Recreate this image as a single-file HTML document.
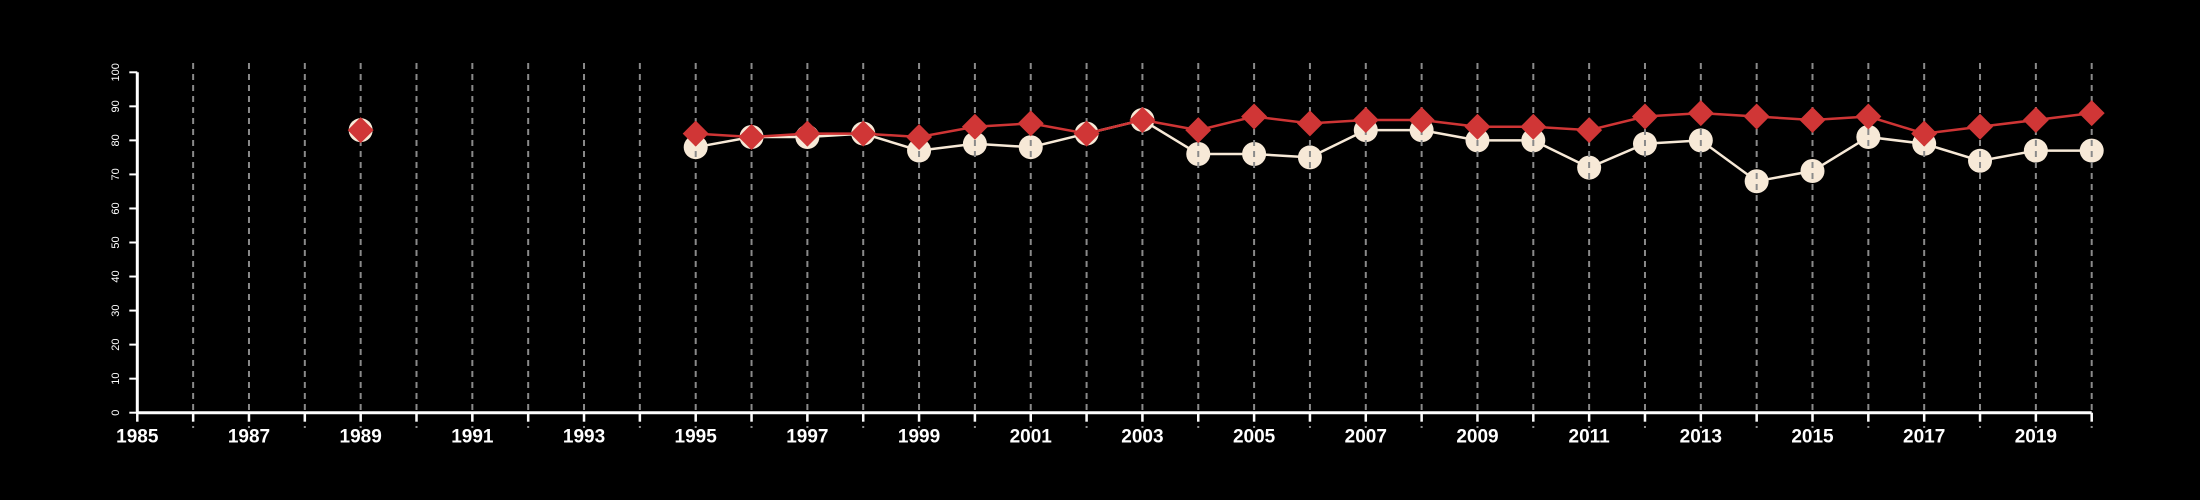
<!DOCTYPE html>
<html><head><meta charset="utf-8"><style>
html,body{margin:0;padding:0;background:#000;}
svg{display:block;}
text{font-family:"Liberation Sans",Arial,sans-serif;fill:#fff;}
</style></head><body>
<svg id="chart" width="2200" height="500" viewBox="0 0 2200 500" xmlns="http://www.w3.org/2000/svg">
<rect width="2200" height="500" fill="#000"/>
<g id="gWhite"></g><g id="gGrid"></g><g id="gRed"></g><g id="gAxes"></g>
</svg>
<script>
const years = [1989,1995,1996,1997,1998,1999,2000,2001,2002,2003,2004,2005,2006,2007,2008,2009,2010,2011,2012,2013,2014,2015,2016,2017,2018,2019,2020];
const redValues = [83,82,81,82,82,81,84,85,82,86,83,87,85,86,86,84,84,83,87,88,87,86,87,82,84,86,88];
const whiteValues = [83,78,81,81,82,77,79,78,82,86,76,76,75,83,83,80,80,72,79,80,68,71,81,79,74,77,77];
const xTickLabels = [1985,1987,1989,1991,1993,1995,1997,1999,2001,2003,2005,2007,2009,2011,2013,2015,2017,2019];
const yTickLabels = [0,10,20,30,40,50,60,70,80,90,100];

const NS='http://www.w3.org/2000/svg';
const X0=137.3, X1=2091.7, Y0=412.7, Y1=72.3;
const xs = y => X0 + (y-1985)*(X1-X0)/35;
const ys = v => Y0 - v*(Y0-Y1)/100;
function mk(tag, attrs, parent){const e=document.createElementNS(NS,tag);for(const k in attrs)e.setAttribute(k,attrs[k]);parent.appendChild(e);return e;}
const gW=document.getElementById('gWhite'), gG=document.getElementById('gGrid'), gR=document.getElementById('gRed'), gA=document.getElementById('gAxes');

// gridlines
for(let y=1986;y<=2020;y++){
  const l=mk('line',{x1:xs(y),x2:xs(y),y1:63,y2:428,stroke:'#8a8a8a','stroke-width':2,'stroke-dasharray':'6,5'},gG);
  
  
}
// white series
function segs(vals){const out=[];let cur=[];for(let i=0;i<years.length;i++){if(i>0&&years[i]-years[i-1]>1){out.push(cur);cur=[];}cur.push(xs(years[i])+','+ys(vals[i]));}out.push(cur);return out;}
segs(whiteValues).forEach(s=>{if(s.length>1){const p=mk('polyline',{points:s.join(' '),fill:'none',stroke:'#f7e9d7','stroke-width':2.5},gW);

}});
years.forEach((y,i)=>{const c=mk('circle',{cx:xs(y),cy:ys(whiteValues[i]),r:12,fill:'#f7e9d7'},gW);

});
// red series
segs(redValues).forEach(s=>{if(s.length>1){const p=mk('polyline',{points:s.join(' '),fill:'none',stroke:'#cf3535','stroke-width':2.5},gR);

}});
years.forEach((y,i)=>{const cx=xs(y),cy=ys(redValues[i]),d=13;
const p=mk('polygon',{points:`${cx},${cy-d} ${cx+d},${cy} ${cx},${cy+d} ${cx-d},${cy}`,fill:'#d03636'},gR);

});
// axes
const xa=mk('line',{x1:X0,x2:X1,y1:Y0,y2:Y0,stroke:'#fff','stroke-width':3},gA);


const ya=mk('line',{x1:X0,x2:X0,y1:Y0,y2:Y1,stroke:'#fff','stroke-width':3},gA);


for(let y=1985;y<=2020;y++){mk('line',{x1:xs(y),x2:xs(y),y1:Y0,y2:Y0+9,stroke:'#fff','stroke-width':2.5},gA);}
xTickLabels.forEach(y=>{const t=mk('text',{x:xs(y),y:Y0+30,'text-anchor':'middle','font-size':19,'font-weight':'bold'},gA);t.textContent=y;

});
yTickLabels.forEach(v=>{const yy=ys(v);mk('line',{x1:X0-8,x2:X0,y1:yy,y2:yy,stroke:'#fff','stroke-width':2},gA);
const t=mk('text',{x:0,y:0,transform:`translate(119,${yy}) rotate(-90)`,'text-anchor':'middle','font-size':11},gA);t.textContent=v;

});
</script>
</body></html>
